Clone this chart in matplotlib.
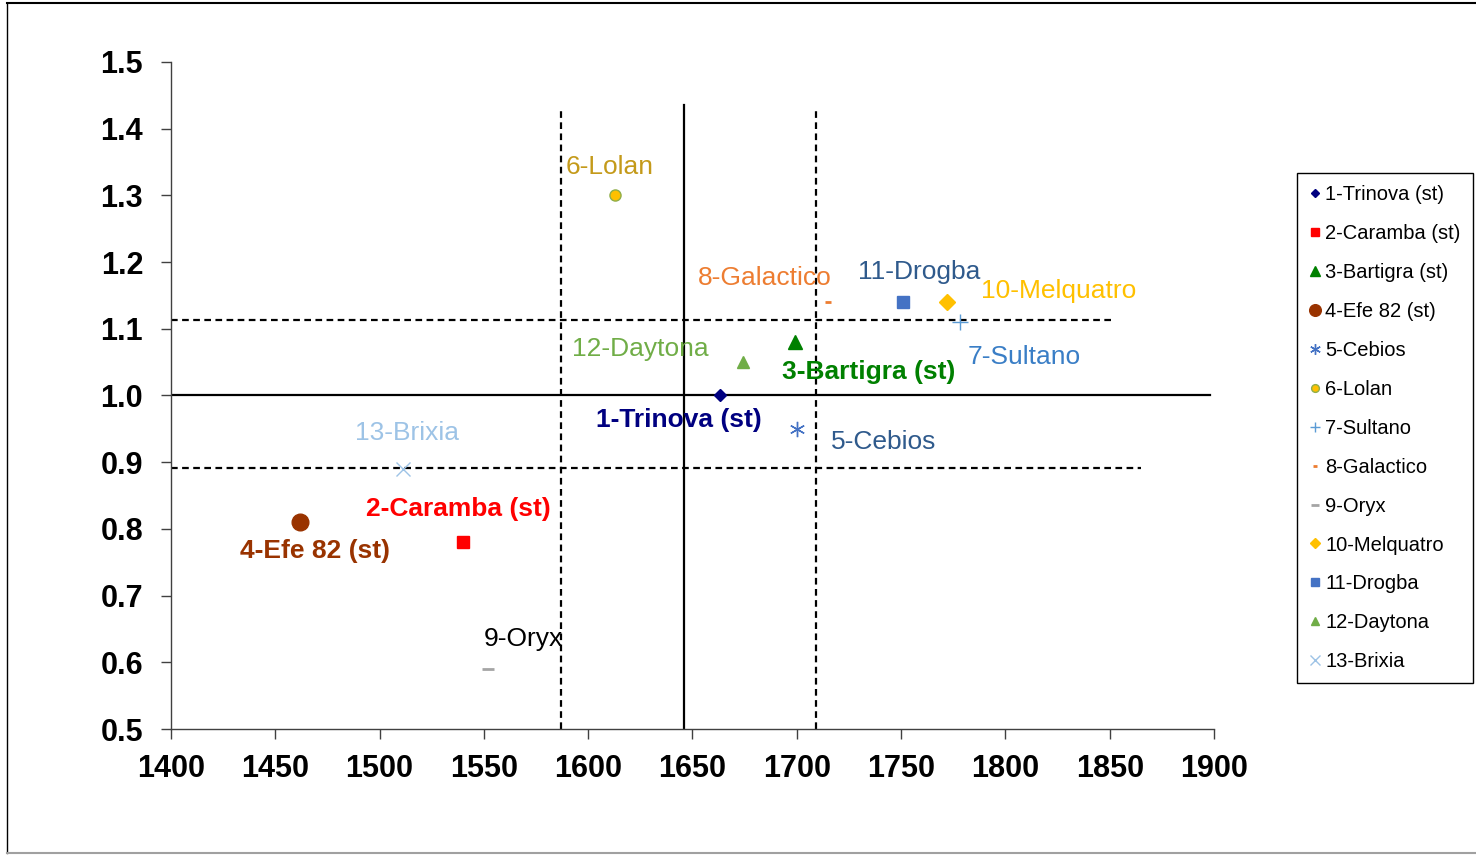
import matplotlib
matplotlib.use('Agg')
import matplotlib.pyplot as plt
from matplotlib.lines import Line2D

plt.rcParams['font.family'] = ['Liberation Sans', 'DejaVu Sans']

# Data
names = ['1-Trinova (st)', '2-Caramba (st)', '3-Bartigra (st)', '4-Efe 82 (st)',
         '5-Cebios', '6-Lolan', '7-Sultano', '8-Galactico', '9-Oryx',
         '10-Melquatro', '11-Drogba', '12-Daytona', '13-Brixia']
x_vals = [1663, 1540, 1699, 1462, 1700, 1613, 1778, 1715, 1552, 1772, 1751, 1674, 1511]
y_vals = [1.00, 0.78, 1.08, 0.81, 0.95, 1.30, 1.11, 1.14, 0.59, 1.14, 1.14, 1.05, 0.89]

# reference lines (mean and +/- sd)
x_mean, x_low, x_high = 1646, 1587, 1709
y_mean, y_low, y_high = 1.0, 0.891, 1.113

# styles
markers = ['D', 's', '^', 'o', (6, 2, 0), 'o', '+', '_', '_', 'D', 's', '^', 'x']
msizes = [6, 8, 10, 12, 11, 8, 11, 5, 9, 8, 8, 9, 10]
mcolors = ['#000080', '#FF0000', '#008000', '#993300', '#4472C4', '#FFC000', '#5B9BD5',
           '#ED7D31', '#A5A5A5', '#FFC000', '#4472C4', '#70AD47', '#9DC3E6']
medges = ['#000080', '#FF0000', '#008000', '#993300', '#4472C4', '#8FAE4A', '#5B9BD5',
          '#ED7D31', '#A5A5A5', '#FFC000', '#4472C4', '#70AD47', '#9DC3E6']
text_colors = ['#000080', '#FF0000', '#008000', '#993300', '#2F5A8C', '#C49A1A', '#3A7EC6',
               '#ED7D31', '#000000', '#FFC000', '#2F5A8C', '#70AD47', '#9DC3E6']
bold = [True, True, True, True] + [False] * 9
# label offsets in pixels from the point
offsets = [(-41, -25), (-5, 33), (74, -30), (15, -29), (87, -13), (-6, 28), (65, -35),
           (-63, 24), (35, 30), (112, 11), (16, 30), (-102, 13), (4, 36)]

fig = plt.figure(figsize=(14.76, 8.55), dpi=100)
ax = fig.add_axes([171/1476, 1 - 729/855, (1214-171)/1476, (729-62)/855])

ax.set_xlim(1400, 1900)
ax.set_ylim(0.5, 1.5)

# reference lines
ax.plot([x_mean, x_mean], [0.5, 1.435], color='black', lw=1.6, zorder=1)
ax.plot([x_low, x_low], [0.5, 1.433], color='black', lw=1.6, ls=(0, (3, 2)), zorder=1)
ax.plot([x_high, x_high], [0.5, 1.433], color='black', lw=1.6, ls=(0, (3, 2)), zorder=1)
ax.plot([1400, 1898], [y_mean, y_mean], color='black', lw=1.6, zorder=1)
ax.plot([1400, 1852], [y_high, y_high], color='black', lw=1.6, ls=(0, (3, 2)), zorder=1)
ax.plot([1400, 1865], [y_low, y_low], color='black', lw=1.6, ls=(0, (3, 2)), zorder=1)

for i in range(len(names)):
    lw = 2 if markers[i] == '_' else 1.0
    ax.plot(x_vals[i], y_vals[i], linestyle='none', marker=markers[i], markersize=msizes[i],
            color=mcolors[i], markeredgecolor=medges[i], markeredgewidth=lw,
            label=names[i], zorder=3)
    ax.annotate(names[i], (x_vals[i], y_vals[i]), xytext=offsets[i],
                textcoords='offset pixels', ha='center', va='center',
                fontsize=19, color=text_colors[i],
                fontweight='bold' if bold[i] else 'normal', zorder=4)

ax.set_xticks([1400, 1450, 1500, 1550, 1600, 1650, 1700, 1750, 1800, 1850, 1900])
ax.set_yticks([0.5, 0.6, 0.7, 0.8, 0.9, 1.0, 1.1, 1.2, 1.3, 1.4, 1.5])
ax.set_yticklabels(['0.5', '0.6', '0.7', '0.8', '0.9', '1.0', '1.1', '1.2', '1.3', '1.4', '1.5'])
for lab in ax.get_xticklabels() + ax.get_yticklabels():
    lab.set_fontweight('bold')
    lab.set_fontsize(22)
ax.tick_params(axis='both', direction='out', length=7, width=1, color='#404040')
ax.tick_params(axis='x', pad=11)
ax.tick_params(axis='y', pad=13)
for side in ('top', 'right'):
    ax.spines[side].set_visible(False)
for side in ('left', 'bottom'):
    ax.spines[side].set_color('#404040')
    ax.spines[side].set_linewidth(1)

leg = ax.legend(loc='upper left', bbox_to_anchor=(1297/1476, 1 - 173/855),
                bbox_transform=fig.transFigure, borderaxespad=0, fancybox=False,
                edgecolor='black', fontsize=14.5, handlelength=0.6, handletextpad=0.2,
                labelspacing=0.99, borderpad=0.6, markerscale=0.7, framealpha=1)
leg.get_frame().set_linewidth(1)

# outer frame
fig.add_artist(Line2D([7/1476, 7/1476], [1 - 3/855, 1 - 853/855], transform=fig.transFigure,
                      color='black', lw=1))
fig.add_artist(Line2D([7/1476, 1], [1 - 3/855, 1 - 3/855], transform=fig.transFigure,
                      color='black', lw=1.5))
fig.add_artist(Line2D([7/1476, 1], [1 - 853/855, 1 - 853/855], transform=fig.transFigure,
                      color='#A0A0A0', lw=1.5))

fig.savefig('out.png', dpi=100)
